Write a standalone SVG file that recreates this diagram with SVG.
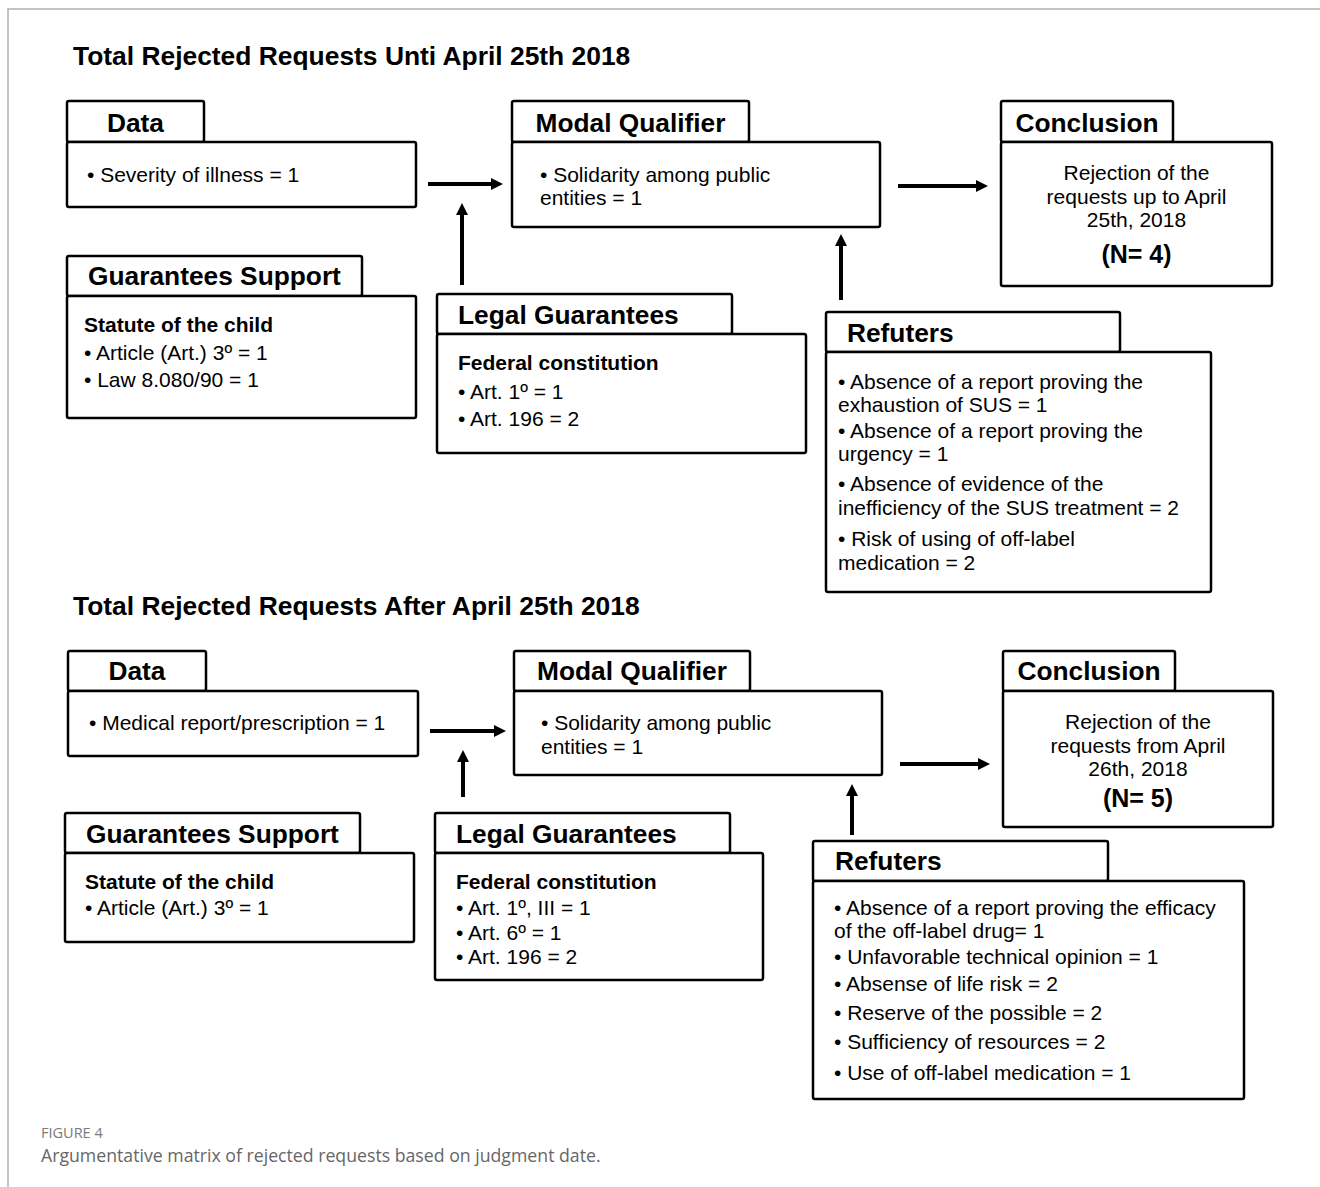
<svg xmlns="http://www.w3.org/2000/svg" width="1320" height="1187" viewBox="0 0 1320 1187">
<style>
  .box { fill: #fff; stroke: #000; stroke-width: 2.5; }
  .hd { font-family: "Liberation Sans", Arial, sans-serif; font-weight: bold; font-size: 26.3px; fill: #000; }
  .title { font-family: "Liberation Sans", Arial, sans-serif; font-weight: bold; font-size: 26.4px; fill: #000; }
  .tx { font-family: "Liberation Sans", Arial, sans-serif; font-size: 21px; fill: #000; }
  .sb { font-family: "Liberation Sans", Arial, sans-serif; font-size: 21px; font-weight: bold; fill: #000; }
  .n { font-family: "Liberation Sans", Arial, sans-serif; font-size: 25px; font-weight: bold; fill: #000; }
  .ctr { text-anchor: middle; }
  .arr { stroke: #000; stroke-width: 4; fill: none; marker-end: url(#ah); }
  .frame { stroke: #b0b0b0; stroke-width: 1.5; fill: none; }
  .figlab { font-family: "Open Sans", "Noto Sans", sans-serif; font-size: 14.5px; fill: #7a7a7a; }
  .cap { font-family: "Open Sans", "Noto Sans", sans-serif; font-size: 17.7px; fill: #666; }
</style>
<defs>
  <marker id="ah" markerUnits="userSpaceOnUse" markerWidth="12" markerHeight="12" viewBox="0 0 12 12" refX="4" refY="6" orient="auto">
    <path d="M0,0 L12,6 L0,12 z" fill="#000"/>
  </marker>
</defs>
<rect width="1320" height="1187" fill="#fff"/>
<path class="frame" d="M8,1187 L8,9 L1320,9"/>

<text class="title" x="73" y="65">Total Rejected Requests Unti April 25th 2018</text>
<text class="title" x="73" y="615">Total Rejected Requests After April 25th 2018</text>

<!-- Top section -->
<g id="data1">
  <rect class="box" x="67" y="101" width="137" height="41" rx="2"/>
  <rect class="box" x="67" y="142" width="349" height="65" rx="2"/>
  <text class="hd ctr" x="135.5" y="132">Data</text>
  <text class="tx" x="87" y="182">• Severity of illness = 1</text>
</g>
<g id="modal1">
  <rect class="box" x="512" y="101" width="237" height="41" rx="2"/>
  <rect class="box" x="512" y="142" width="368" height="85" rx="2"/>
  <text class="hd ctr" x="630.5" y="132">Modal Qualifier</text>
  <text class="tx" x="540" y="182">• Solidarity among public</text>
  <text class="tx" x="540" y="205">entities = 1</text>
</g>
<g id="conclusion1">
  <rect class="box" x="1001" y="101" width="172" height="41" rx="2"/>
  <rect class="box" x="1001" y="142" width="271" height="144" rx="2"/>
  <text class="hd ctr" x="1087" y="132">Conclusion</text>
  <text class="tx ctr" x="1136.5" y="180">Rejection of the</text>
  <text class="tx ctr" x="1136.5" y="204">requests up to April</text>
  <text class="tx ctr" x="1136.5" y="227">25th, 2018</text>
  <text class="n ctr" x="1136.5" y="263">(N= 4)</text>
</g>
<g id="support1">
  <rect class="box" x="67" y="256" width="295" height="40" rx="2"/>
  <rect class="box" x="67" y="296" width="349" height="122" rx="2"/>
  <text class="hd ctr" x="214.5" y="285">Guarantees Support</text>
  <text class="sb" x="84" y="332">Statute of the child</text>
  <text class="tx" x="84" y="360">• Article (Art.) 3º = 1</text>
  <text class="tx" x="84" y="387">• Law 8.080/90 = 1</text>
</g>
<g id="legal1">
  <rect class="box" x="437" y="294" width="295" height="40" rx="2"/>
  <rect class="box" x="437" y="334" width="369" height="119" rx="2"/>
  <text class="hd" x="458" y="324">Legal Guarantees</text>
  <text class="sb" x="458" y="370">Federal constitution</text>
  <text class="tx" x="458" y="399">• Art. 1º = 1</text>
  <text class="tx" x="458" y="426">• Art. 196 = 2</text>
</g>
<g id="refuters1">
  <rect class="box" x="826" y="312" width="294" height="40" rx="2"/>
  <rect class="box" x="826" y="352" width="385" height="240" rx="2"/>
  <text class="hd" x="847" y="342">Refuters</text>
  <text class="tx" x="838" y="389">• Absence of a report proving the</text>
  <text class="tx" x="838" y="412">exhaustion of SUS = 1</text>
  <text class="tx" x="838" y="438">• Absence of a report proving the</text>
  <text class="tx" x="838" y="461">urgency = 1</text>
  <text class="tx" x="838" y="491">• Absence of evidence of the</text>
  <text class="tx" x="838" y="515">inefficiency of the SUS treatment = 2</text>
  <text class="tx" x="838" y="546">• Risk of using of off-label</text>
  <text class="tx" x="838" y="570">medication = 2</text>
</g>

<!-- Bottom section -->
<g id="data2">
  <rect class="box" x="68" y="651" width="138" height="40" rx="2"/>
  <rect class="box" x="68" y="691" width="350" height="65" rx="2"/>
  <text class="hd ctr" x="137" y="680">Data</text>
  <text class="tx" x="89" y="730">• Medical report/prescription = 1</text>
</g>
<g id="modal2">
  <rect class="box" x="514" y="651" width="236" height="40" rx="2"/>
  <rect class="box" x="514" y="691" width="368" height="84" rx="2"/>
  <text class="hd ctr" x="632" y="680">Modal Qualifier</text>
  <text class="tx" x="541" y="730">• Solidarity among public</text>
  <text class="tx" x="541" y="754">entities = 1</text>
</g>
<g id="conclusion2">
  <rect class="box" x="1003" y="651" width="172" height="40" rx="2"/>
  <rect class="box" x="1003" y="691" width="270" height="136" rx="2"/>
  <text class="hd ctr" x="1089" y="680">Conclusion</text>
  <text class="tx ctr" x="1138" y="729">Rejection of the</text>
  <text class="tx ctr" x="1138" y="753">requests from April</text>
  <text class="tx ctr" x="1138" y="776">26th, 2018</text>
  <text class="n ctr" x="1138" y="807">(N= 5)</text>
</g>
<g id="support2">
  <rect class="box" x="65" y="813" width="295" height="40" rx="2"/>
  <rect class="box" x="65" y="853" width="349" height="89" rx="2"/>
  <text class="hd ctr" x="212.5" y="843">Guarantees Support</text>
  <text class="sb" x="85" y="889">Statute of the child</text>
  <text class="tx" x="85" y="915">• Article (Art.) 3º = 1</text>
</g>
<g id="legal2">
  <rect class="box" x="435" y="813" width="295" height="40" rx="2"/>
  <rect class="box" x="435" y="853" width="328" height="127" rx="2"/>
  <text class="hd" x="456" y="843">Legal Guarantees</text>
  <text class="sb" x="456" y="889">Federal constitution</text>
  <text class="tx" x="456" y="915">• Art. 1º, III = 1</text>
  <text class="tx" x="456" y="940">• Art. 6º = 1</text>
  <text class="tx" x="456" y="964">• Art. 196 = 2</text>
</g>
<g id="refuters2">
  <rect class="box" x="813" y="841" width="295" height="40" rx="2"/>
  <rect class="box" x="813" y="881" width="431" height="218" rx="2"/>
  <text class="hd" x="835" y="870">Refuters</text>
  <text class="tx" x="834" y="915">• Absence of a report proving the efficacy</text>
  <text class="tx" x="834" y="938">of the off-label drug= 1</text>
  <text class="tx" x="834" y="964">• Unfavorable technical opinion = 1</text>
  <text class="tx" x="834" y="991">• Absense of life risk = 2</text>
  <text class="tx" x="834" y="1020">• Reserve of the possible = 2</text>
  <text class="tx" x="834" y="1049">• Sufficiency of resources = 2</text>
  <text class="tx" x="834" y="1080">• Use of off-label medication = 1</text>
</g>

<g id="connectors">
  <line class="arr" x1="428" y1="184" x2="495" y2="184"/>
  <line class="arr" x1="462" y1="285" x2="462" y2="211"/>
  <line class="arr" x1="841" y1="300" x2="841" y2="242"/>
  <line class="arr" x1="898" y1="186" x2="980" y2="186"/>
  <line class="arr" x1="430" y1="731" x2="498" y2="731"/>
  <line class="arr" x1="463" y1="797" x2="463" y2="758"/>
  <line class="arr" x1="852" y1="835" x2="852" y2="792"/>
  <line class="arr" x1="900" y1="764" x2="982" y2="764"/>
</g>

<text class="figlab" x="41" y="1138">FIGURE 4</text>
<text class="cap" x="41" y="1162">Argumentative matrix of rejected requests based on judgment date.</text>
</svg>
